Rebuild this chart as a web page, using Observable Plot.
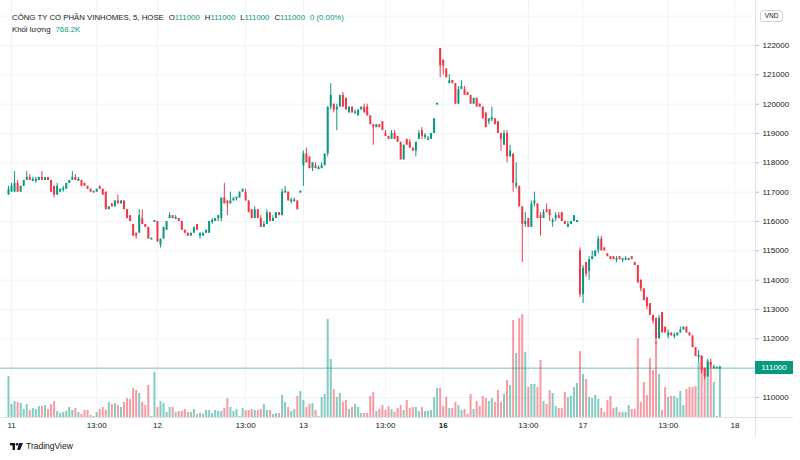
<!DOCTYPE html>
<html><head><meta charset="utf-8">
<script src="https://cdn.jsdelivr.net/npm/d3@7"></script>
<script src="https://cdn.jsdelivr.net/npm/@observablehq/plot@0.6"></script>
<style>
body{margin:0;background:#fff;font-family:"Liberation Sans",Arial,sans-serif;}
#wrap{position:relative;width:800px;height:460px;overflow:hidden;background:#fff;}
#wrap > svg{position:absolute;left:0;top:0;}
#legend{position:absolute;left:12px;top:12px;font-size:7.8px;color:#131722;line-height:12px;white-space:nowrap;}
.v{color:#089981}
.sep{display:inline-block;width:5px}
.hl{position:absolute;background:#e0e3eb;}
#pbox{position:absolute;left:755px;width:38px;height:13px;background:#089981;color:#fff;font-size:8px;line-height:13px;text-align:center;}
#vnd{position:absolute;left:760px;width:21px;height:10px;border:1px solid #d1d4dc;border-radius:3px;background:#fff;color:#131722;font-size:6.5px;line-height:10px;text-align:center;}
#logo{position:absolute;left:10px;top:441px;display:flex;align-items:center;font-size:8.5px;color:#131722;}
</style></head><body><div id="wrap"></div>
<script>
// OHLC per 5-minute bar [open, high, low, close], one array per trading day
const day11 = [
[116900,117200,116900,117100],[117000,117300,117000,117200],[117000,117700,117000,117300],[117300,117400,117000,117000],
[117000,117200,117000,117200],[117200,117400,117200,117400],[117400,117700,117400,117500],[117500,117600,117400,117400],
[117400,117500,117400,117400],[117400,117500,117300,117400],[117400,117500,117400,117500],[117500,117700,117400,117400],
[117400,117500,117400,117500],[117500,117500,117400,117400],[117400,117400,117000,117000],[117200,117200,116800,116900],
[116900,117300,116900,117200],[117000,117100,117000,117100],[117100,117200,117000,117100],[117100,117300,117100,117300],
[117300,117400,117300,117400],[117400,117700,117400,117500],[117500,117600,117400,117400],[117400,117500,117400,117400],
[117400,117400,117200,117200],[117300,117300,117200,117200],[117200,117200,117100,117100],[117100,117100,117000,117000],
[117000,117000,117000,117000],[117000,117100,117000,117100],[117200,117200,117100,117100],[117100,117100,116900,116900],
[117000,117000,116400,116400],[116400,116500,116400,116500],[116600,116600,116500,116500],[116500,116700,116500,116700],
[116700,116900,116600,116600],[116600,116700,116600,116700],[116700,116700,116400,116400],[116400,116400,116100,116100],
[116200,116200,116000,116000],[115900,115900,115500,115500],[115600,115600,115400,115500],[115600,116400,115600,116200],
[116100,116400,115900,115900],[115900,115900,115800,115800],[115800,115800,115400,115400],[115400,115400,115400,115400],
[116000,116000,116000,116000]];
const day12 = [
[116000,116000,115300,115300],[115200,115400,115100,115400],[115400,115800,115400,115800],[115700,116000,115700,116000],
[116100,116300,116100,116200],[116200,116200,116100,116100],[116100,116200,116100,116100],[116100,116100,116000,116000],
[116000,116000,115700,115700],[115700,115700,115600,115600],[115600,115600,115500,115500],[115500,115600,115500,115600],
[115600,115800,115600,115800],[115900,115900,115700,115700],[115500,115600,115400,115600],[115500,115600,115500,115600],
[115600,115700,115600,115700],[115600,116000,115600,116000],[116000,116100,115900,116000],[116000,116100,116000,116100],
[116100,116200,116000,116200],[116100,116800,116000,116800],[116800,117300,116600,116600],[116700,116700,116200,116600],
[116600,117000,116600,116700],[116700,116800,116700,116800],[116800,116800,116700,116800],[116800,117000,116800,117000],
[117000,117100,117000,117100],[117000,117100,116700,116700],[116700,116700,116300,116300],[116400,116400,116100,116100],
[116100,116500,116100,116400],[116400,116400,116100,116100],[116100,116200,115800,115800],[115800,116000,115800,115900],
[115900,116400,115900,116300],[116300,116300,116000,116000],[116000,116200,116000,116100],[116100,116300,116100,116300],
[116300,116300,116200,116200],[116200,117100,116200,117000],[117000,117200,117000,117000],[117000,117000,116700,116700],
[116700,116800,116600,116700],[116700,116800,116700,116700],[116700,116700,116400,116400],[117000,117000,117000,117000]];
const day13 = [
[117900,118400,117200,118300],[118300,118500,118000,118000],[118200,118200,117800,117800],[117800,118000,117700,118000],
[117900,118000,117800,117800],[117800,117900,117800,117800],[117800,118000,117800,117900],[117900,118300,117900,118300],
[118300,119900,118200,119900],[119900,120700,119800,120300],[120000,120000,119700,119800],[119800,120000,119100,119900],
[119900,120300,119900,120300],[120300,120400,119900,119900],[120200,120200,119800,119800],[119700,119900,119700,119900],
[119900,119900,119700,119700],[119700,119800,119700,119700],[119600,119800,119600,119800],[119800,119900,119800,119900],
[119900,120000,119700,119700],[119900,120000,119600,119600],[119600,119600,119300,119300],[119300,119300,118600,119200],
[119200,119300,119200,119300],[119300,119300,119200,119200],[119400,119400,119100,119100],[119000,119100,118900,118900],
[118900,118900,118800,118800],[118800,119100,118800,119000],[119000,119100,118800,118800],[118900,118900,118700,118700],
[118700,118700,118100,118100],[118100,118600,118100,118600],[118800,118800,118600,118600],[118700,118800,118500,118500],
[118500,118500,118400,118400],[118400,118700,118200,118700],[118800,119100,118800,119000],[119100,119200,118800,118900],
[118900,119000,118800,118900],[118800,118900,118800,118800],[118800,119000,118800,119000],[119000,119500,119000,119500],
[120000,120000,120000,120000]];
const day16 = [
[121900,121900,120900,121300],[121500,121500,121000,121300],[121200,121200,120900,120900],[120700,121000,120700,120800],
[120800,120800,120700,120700],[120700,120700,120000,120000],[120000,120600,120000,120500],[120500,120800,120500,120600],
[120500,120600,120300,120300],[120400,120400,120300,120300],[120300,120300,120000,120000],[120000,120200,120000,120200],
[120200,120200,119900,119900],[120000,120000,119900,119900],[119900,119900,119500,119500],[119700,119700,119200,119200],
[119400,119500,119300,119500],[119500,119900,119400,119500],[119500,119500,119300,119300],[119400,119400,119000,119000],
[119000,119000,118400,118800],[118600,119100,118600,119000],[119000,119100,118000,118200],[118200,118600,118200,118400],
[118300,118300,117000,117300],[117200,118000,117100,117300],[117200,117200,116500,116500],[116500,116500,114600,115900],
[115900,116300,115800,116000],[116100,116100,115800,115800],[115800,116700,115800,116600],[116600,117000,116500,116700],
[116600,116600,116100,116100],[116200,116300,115500,116100],[116100,116400,116100,116300],[116400,116600,116300,116300],
[116400,116400,116000,116200],[116000,116100,115800,116000],[116100,116300,116000,116200],[116200,116300,116100,116100],
[116300,116300,116000,116000],[116000,116000,115900,115900],[115800,116000,115800,115900],[115900,116000,115900,116000],
[116000,116200,116000,116200],[116000,116000,116000,116000]];
const day17 = [
[115000,115100,113400,113500],[113500,114500,113200,114400],[114600,114600,114100,114200],[114300,114800,114000,114700],
[114700,115000,114700,114800],[114800,115000,114800,115000],[115000,115500,114900,115400],[115400,115500,115000,115000],
[115100,115100,115000,115000],[114900,114900,114800,114800],[114800,114800,114700,114700],[114800,114800,114700,114700],
[114700,114800,114600,114700],[114800,114800,114700,114700],[114700,114700,114600,114700],[114700,114800,114700,114700],
[114700,114700,114700,114700],[114800,114800,114700,114700],[114600,114600,114500,114500],[114500,114500,113900,113900],
[114000,114000,113600,113700],[113700,113700,113300,113300],[113400,113400,113000,113100],[113200,113200,112800,112800],
[112800,112800,112500,112600],[112700,112700,111800,112000],[112000,112800,112000,112700],[112900,112900,112200,112200],
[112400,112400,112200,112200],[112100,112300,112000,112200],[112200,112200,112100,112100],[112100,112200,112000,112100],
[112100,112200,112100,112200],[112200,112400,112200,112300],[112300,112400,112300,112400],[112400,112400,112200,112200],
[112200,112200,112100,112100],[112100,112100,111700,111700],[111700,111700,111400,111400],[111400,111600,111200,111400],
[111400,111400,110800,110900],[111000,111000,110600,110700],[110700,111300,110700,111200],[111200,111300,111000,111100],
[111000,111100,111000,111000],[111000,111000,111000,111000],[111000,111000,111000,111000]];

// Volume per bar, thousands of shares
const vol11 = [615,195,240,225,210,120,195,105,135,120,165,165,180,120,195,240,90,60,75,90,150,105,135,75,45,105,105,30,15,75,120,150,105,225,195,210,180,150,225,285,270,435,405,360,225,180,480,15,675];
const vol12 = [150,240,210,75,150,150,75,90,90,120,75,75,120,45,60,45,105,105,60,105,90,90,135,285,150,90,120,15,135,105,105,120,105,105,120,195,105,105,45,60,60,330,225,150,90,120,315,390];
const vol13 = [255,150,195,210,105,15,300,345,1470,870,420,300,360,225,255,120,150,195,150,60,60,60,315,375,90,120,180,105,165,120,75,135,180,105,255,135,150,150,90,150,90,90,105,300,435];
const vol16 = [435,165,300,135,135,225,180,105,120,45,345,120,240,165,315,285,240,285,225,405,225,345,555,480,1455,960,1485,1545,975,450,495,495,450,855,240,195,405,360,165,135,135,375,300,315,450,510];
const vol17 = [990,645,570,300,285,330,270,135,75,255,315,135,150,75,75,75,180,120,120,1185,225,525,330,885,705,1140,645,105,450,300,315,315,285,390,180,420,450,450,465,825,930,735,855,825,525,15,768.2];

// Time axis labels (bar index) and price ticks
const timeTickPos = [1, 29, 49, 78, 97, 124, 143, 171, 189, 217, 239];
const timeTickLabels = ["11","13:00","12","13:00","13","13:00","16","13:00","17","13:00","18"];
const boldLabels = ["16"];
const priceTicks = [110000,111000,112000,113000,114000,115000,116000,117000,118000,119000,120000,121000,122000,123000];
const title = "CÔNG TY CỔ PHẦN VINHOMES, 5, HOSE";
const volLabel = "Khối lượng";
const currency = "VND";

const UP = "#089981", DOWN = "#f23645";
const days = [day11, day12, day13, day16, day17];
const vols = [vol11, vol12, vol13, vol16, vol17];
const bars = [];
let idx = 0;
days.forEach((d, k) => d.forEach((r, j) => {
  bars.push({i: idx++, o: r[0], h: r[1], l: r[2], c: r[3], v: vols[k][j], up: r[3] >= r[0]});
}));
const upBars = bars.filter(d => d.up), dnBars = bars.filter(d => !d.up);
const last = bars[bars.length - 1];
const xticks = timeTickPos.map((p, k) => ({p, lbl: timeTickLabels[k]}));
// axis labels hidden under the last-price box and the currency box are left out
const labelTicks = priceTicks.filter(t => t !== last.c && t !== 123000);

const common = {
  width: 800, height: 460, marginTop: 0, marginBottom: 43, marginLeft: 0, marginRight: 45,
  x: {domain: [-2.63, 245.72], axis: null}
};
const yPrice = {domain: [109318, 123534], axis: null};

const grid = Plot.plot({...common, y: yPrice,
  style: {background: "white"},
  marks: [
    Plot.ruleY(priceTicks, {stroke: "#f0f3fa"}),
    Plot.ruleX(timeTickPos, {stroke: "#f0f3fa"})
  ]});

const volume = Plot.plot({...common, y: {domain: [0, 6255], axis: null},
  style: {background: "none"},
  marks: [
    Plot.ruleX(upBars, {x: "i", y1: 0, y2: "v", stroke: UP, strokeOpacity: 0.5, strokeWidth: 2}),
    Plot.ruleX(dnBars, {x: "i", y1: 0, y2: "v", stroke: DOWN, strokeOpacity: 0.5, strokeWidth: 2})
  ]});

const price = Plot.plot({...common, y: yPrice,
  style: {background: "none", fontFamily: "Liberation Sans, Arial, sans-serif", fontSize: "8px", color: "#131722"},
  marks: [
    Plot.ruleY([last.c], {stroke: UP, strokeOpacity: 0.5}),
    Plot.ruleX(upBars, {x: "i", y1: "l", y2: "h", stroke: UP, strokeWidth: 1}),
    Plot.ruleX(dnBars, {x: "i", y1: "l", y2: "h", stroke: DOWN, strokeWidth: 1}),
    Plot.ruleX(upBars.filter(d => d.c !== d.o), {x: "i", y1: "o", y2: "c", stroke: UP, strokeWidth: 2}),
    Plot.ruleX(dnBars, {x: "i", y1: "o", y2: "c", stroke: DOWN, strokeWidth: 2}),
    Plot.ruleX(upBars.filter(d => d.c === d.o), {x: "i", y1: "o", y2: "c", stroke: UP, strokeWidth: 2, strokeLinecap: "square"}),
    Plot.axisY(labelTicks, {anchor: "right", tickSize: 3, tickPadding: 4, tickFormat: d => String(d), stroke: "#b2b5be", fill: "#131722"}),
    Plot.text(xticks.filter(d => !boldLabels.includes(d.lbl)), {x: "p", text: "lbl", frameAnchor: "bottom", dy: 10, fill: "#131722"}),
    Plot.text(xticks.filter(d => boldLabels.includes(d.lbl)), {x: "p", text: "lbl", frameAnchor: "bottom", dy: 10, fill: "#131722", fontWeight: "bold"})
  ]});

const wrap = document.getElementById("wrap");
wrap.append(grid, volume, price);

const sy = price.scale("y");
function add(html) { wrap.insertAdjacentHTML("beforeend", html); }
add(`<div class="hl" style="left:755px;top:0;width:1px;height:437px"></div>`);
add(`<div class="hl" style="left:0;top:417px;width:793px;height:1px"></div>`);
add(`<div id="pbox" style="top:${sy.apply(last.c) - 6.5}px">${last.c}</div>`);
add(`<div id="vnd" style="top:${sy.apply(123000) - 6}px">${currency}</div>`);
const fmtK = v => v.toFixed(1) + "K";
add(`<div id="legend"><div>${title}<span class="sep"></span>O<span class="v">${last.o}</span><span class="sep"></span>H<span class="v">${last.h}</span><span class="sep"></span>L<span class="v">${last.l}</span><span class="sep"></span>C<span class="v">${last.c}</span><span class="sep"></span><span class="v">${last.c - last.o} (0.00%)</span></div><div>${volLabel}<span class="sep"></span><span class="v">${fmtK(last.v)}</span></div></div>`);
add(`<div id="logo"><svg width="13" height="9" viewBox="0 0 13 9"><rect x="0" y="1" width="5" height="2.4" fill="#131722"/><rect x="2.5" y="1" width="2.5" height="7" fill="#131722"/><circle cx="7" cy="2.3" r="1.3" fill="#131722"/><polygon points="9,1 13,1 10,8 7.2,8" fill="#131722"/></svg><span style="margin-left:3px">TradingView</span></div>`);
</script></body></html>
